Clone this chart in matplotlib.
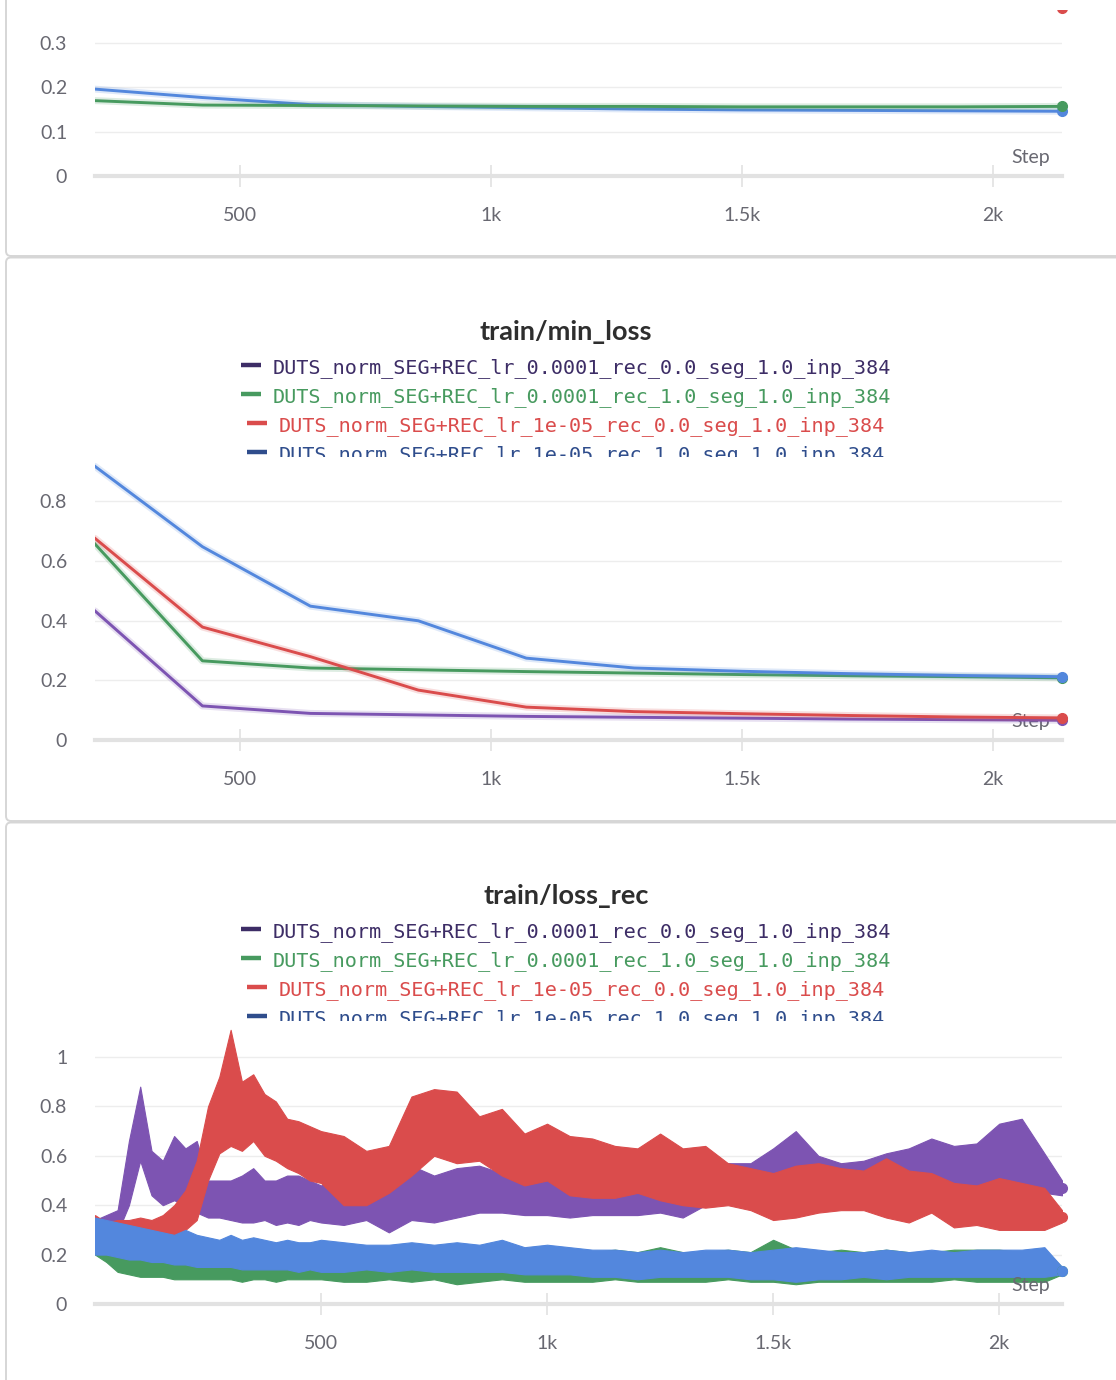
"""Three W&B-style training panels: a cropped loss panel, train/min_loss
and the noisy train/loss_rec curves."""

import matplotlib

matplotlib.use("Agg")

import matplotlib.pyplot as plt
from matplotlib.patches import FancyBboxPatch
from matplotlib.transforms import Bbox, offset_copy

W, H = 1116, 1380

RUN_NAMES = [
    "DUTS_norm_SEG+REC_lr_0.0001_rec_0.0_seg_1.0_inp_384",
    "DUTS_norm_SEG+REC_lr_0.0001_rec_1.0_seg_1.0_inp_384",
    "DUTS_norm_SEG+REC_lr_1e-05_rec_0.0_seg_1.0_inp_384",
    "DUTS_norm_SEG+REC_lr_1e-05_rec_1.0_seg_1.0_inp_384",
]
LINE_COLORS = ["#7D54B2", "#479A5F", "#DA4C4C", "#5387DD"]
TEXT_COLORS = ["#3d2d66", "#479A5F", "#DA4C4C", "#2f4d8c"]

# --- top panel (cropped): only green and blue fall inside the window,
# red sits above it and only its end marker peeks in
top_steps = [211, 425, 640, 855, 1070, 1285, 1500, 1715, 1930, 2137]
top_green = [0.170, 0.160, 0.159, 0.158, 0.157, 0.157, 0.156, 0.156, 0.156, 0.157]
top_blue = [0.196, 0.177, 0.161, 0.157, 0.154, 0.151, 0.149, 0.148, 0.147, 0.146]
top_red_last = 0.379

# --- train/min_loss
min_steps = [211, 425, 640, 855, 1070, 1285, 1500, 1715, 1930, 2137]
min_purple = [0.432, 0.114, 0.089, 0.084, 0.079, 0.076, 0.073, 0.070, 0.068, 0.066]
min_green = [0.656, 0.265, 0.241, 0.235, 0.229, 0.224, 0.219, 0.215, 0.212, 0.208]
min_red = [0.675, 0.378, 0.279, 0.167, 0.110, 0.095, 0.088, 0.082, 0.077, 0.074]
min_blue = [0.916, 0.647, 0.448, 0.399, 0.274, 0.241, 0.230, 0.222, 0.216, 0.212]

# --- train/loss_rec: noisy, so kept as a lower / upper envelope per run
rec_steps = [0, 25, 50, 75, 100, 125, 150, 175, 200, 225, 250, 275, 300, 325,
             350, 375, 400, 425, 450, 475, 500,
             550, 600, 650, 700, 750, 800, 850, 900, 950, 1000,
             1050, 1100, 1150, 1200, 1250, 1300, 1350, 1400, 1450, 1500,
             1550, 1600, 1650, 1700, 1750, 1800, 1850, 1900, 1950, 2000,
             2050, 2100, 2139]
rec_purple_lo = [0.27, 0.27, 0.29, 0.40, 0.58, 0.44, 0.40, 0.42, 0.40, 0.37, 0.35,
                 0.35, 0.34, 0.33, 0.33, 0.34, 0.32, 0.33, 0.32, 0.34, 0.33,
                 0.32, 0.34, 0.29, 0.34, 0.33, 0.35, 0.37, 0.37, 0.36, 0.36,
                 0.35, 0.36, 0.36, 0.36, 0.37, 0.35, 0.40, 0.42, 0.43, 0.44,
                 0.45, 0.44, 0.45, 0.45, 0.45, 0.45, 0.45, 0.45, 0.45, 0.48,
                 0.48, 0.45, 0.44]
rec_purple_hi = [0.34, 0.36, 0.38, 0.66, 0.88, 0.62, 0.58, 0.68, 0.63, 0.66, 0.50,
                 0.50, 0.50, 0.52, 0.55, 0.50, 0.50, 0.52, 0.52, 0.50, 0.48,
                 0.52, 0.48, 0.50, 0.56, 0.52, 0.55, 0.56, 0.53, 0.51, 0.54,
                 0.52, 0.50, 0.52, 0.50, 0.50, 0.48, 0.58, 0.57, 0.57, 0.63,
                 0.70, 0.60, 0.57, 0.58, 0.61, 0.63, 0.67, 0.64, 0.65, 0.73,
                 0.75, 0.61, 0.50]
rec_green_lo = [0.20, 0.17, 0.13, 0.12, 0.11, 0.11, 0.11, 0.10, 0.10, 0.10, 0.10,
                0.10, 0.10, 0.09, 0.10, 0.10, 0.09, 0.10, 0.10, 0.10, 0.10,
                0.09, 0.09, 0.10, 0.09, 0.10, 0.08, 0.09, 0.10, 0.09, 0.09,
                0.09, 0.09, 0.10, 0.09, 0.09, 0.09, 0.09, 0.10, 0.09, 0.09,
                0.08, 0.09, 0.09, 0.09, 0.09, 0.09, 0.09, 0.10, 0.09, 0.09,
                0.09, 0.09, 0.12]
rec_green_hi = [0.30, 0.26, 0.24, 0.23, 0.22, 0.22, 0.21, 0.21, 0.21, 0.20, 0.20,
                0.20, 0.20, 0.20, 0.21, 0.20, 0.20, 0.20, 0.20, 0.20, 0.20,
                0.21, 0.22, 0.20, 0.21, 0.21, 0.21, 0.20, 0.21, 0.20, 0.21,
                0.21, 0.21, 0.22, 0.21, 0.23, 0.21, 0.21, 0.22, 0.21, 0.26,
                0.22, 0.21, 0.22, 0.21, 0.22, 0.21, 0.21, 0.22, 0.22, 0.22,
                0.21, 0.22, 0.15]
rec_red_lo = [0.22, 0.21, 0.25, 0.26, 0.27, 0.26, 0.25, 0.27, 0.30, 0.34, 0.50,
              0.61, 0.64, 0.62, 0.66, 0.60, 0.58, 0.55, 0.53, 0.50, 0.49,
              0.40, 0.40, 0.45, 0.52, 0.60, 0.57, 0.58, 0.52, 0.48, 0.50,
              0.44, 0.43, 0.43, 0.45, 0.42, 0.40, 0.39, 0.40, 0.38, 0.34,
              0.35, 0.37, 0.38, 0.38, 0.35, 0.33, 0.37, 0.31, 0.32, 0.30,
              0.30, 0.30, 0.33]
rec_red_hi = [0.36, 0.33, 0.34, 0.34, 0.35, 0.34, 0.36, 0.40, 0.46, 0.58, 0.80,
              0.92, 1.11, 0.90, 0.93, 0.85, 0.82, 0.75, 0.74, 0.72, 0.70,
              0.68, 0.62, 0.64, 0.84, 0.87, 0.86, 0.76, 0.79, 0.69, 0.73,
              0.68, 0.67, 0.64, 0.63, 0.69, 0.63, 0.64, 0.57, 0.55, 0.53,
              0.56, 0.57, 0.55, 0.54, 0.59, 0.54, 0.53, 0.49, 0.48, 0.51,
              0.49, 0.47, 0.38]
rec_blue_lo = [0.20, 0.20, 0.19, 0.18, 0.18, 0.17, 0.17, 0.16, 0.16, 0.15, 0.15,
               0.15, 0.15, 0.14, 0.14, 0.14, 0.14, 0.14, 0.13, 0.14, 0.13,
               0.13, 0.14, 0.13, 0.14, 0.13, 0.13, 0.13, 0.13, 0.12, 0.12,
               0.12, 0.11, 0.11, 0.10, 0.11, 0.11, 0.11, 0.11, 0.10, 0.10,
               0.09, 0.10, 0.10, 0.11, 0.10, 0.11, 0.11, 0.11, 0.11, 0.11,
               0.11, 0.11, 0.12]
rec_blue_hi = [0.35, 0.34, 0.33, 0.32, 0.31, 0.30, 0.29, 0.28, 0.30, 0.28, 0.27,
               0.26, 0.28, 0.26, 0.27, 0.26, 0.25, 0.26, 0.25, 0.25, 0.26,
               0.25, 0.24, 0.24, 0.25, 0.24, 0.25, 0.24, 0.26, 0.23, 0.24,
               0.23, 0.22, 0.22, 0.21, 0.22, 0.21, 0.22, 0.22, 0.21, 0.22,
               0.23, 0.22, 0.21, 0.21, 0.22, 0.21, 0.22, 0.21, 0.22, 0.22,
               0.22, 0.23, 0.15]
rec_final = [0.47, 0.134, 0.352, 0.134]

step_ticks = [500, 1000, 1500, 2000]
step_labels = ["500", "1k", "1.5k", "2k"]

AXIS_GREY = "#e2e2e2"
GRID_GREY = "#ededed"
TICK_GREY = "#686871"
BORDER_GREY = "#d6d6d6"
MONO = ["DejaVu Sans Mono"]

plt.rcParams["font.family"] = ["Lato", "DejaVu Sans"]

fig = plt.figure(figsize=(W / 100, H / 100), dpi=100)
fig.patch.set_facecolor("white")

# background layer in pixel coordinates (origin top-left)
bg = fig.add_axes([0, 0, 1, 1])
bg.set_xlim(0, W)
bg.set_ylim(H, 0)
bg.axis("off")

for top, bottom in [(-20, 256), (257.5, 821), (822.5, 1400)]:
    bg.add_patch(FancyBboxPatch((6, top), W + 40, bottom - top,
                                boxstyle="round,pad=0,rounding_size=5",
                                fc="white", ec=BORDER_GREY, lw=1.4))


def make_axes(left, top, right, bottom):
    return fig.add_axes([left / W, 1 - bottom / H, (right - left) / W, (bottom - top) / H])


def style_axes(ax, xlim, ymax, yticks, ylabels):
    ax.set_xlim(*xlim)
    ax.set_ylim(0, ymax)
    ax.patch.set_alpha(0)
    for side in ("top", "right", "left"):
        ax.spines[side].set_visible(False)
    ax.spines["bottom"].set_color(AXIS_GREY)
    ax.spines["bottom"].set_linewidth(3)
    ax.set_yticks(yticks, ylabels)
    ax.set_xticks(step_ticks, step_labels)
    ax.tick_params(axis="y", length=0, pad=20, labelsize=14, labelcolor=TICK_GREY)
    ax.tick_params(axis="x", direction="inout", length=16, width=1.2, color=AXIS_GREY,
                   pad=14, labelsize=14, labelcolor=TICK_GREY)
    ax.grid(axis="y", color=GRID_GREY, linewidth=1)
    ax.set_axisbelow(True)
    ax.text(1, 0, "Step", transform=offset_copy(ax.transAxes, fig=fig, x=-12, y=19, units="dots"),
            ha="right", va="center", fontsize=14, color=TICK_GREY, zorder=1.5)


def draw_curve(ax, steps, values, color):
    ax.plot(steps, values, color=color, lw=5, alpha=0.18, solid_capstyle="round")
    ax.plot(steps, values, color=color, lw=2.1)
    ax.plot(steps[-1], values[-1], "o", ms=7, color=color, clip_on=False, zorder=4)


renderer = fig.canvas.get_renderer()


def draw_header(title, title_y, clip_y):
    bg.text(566, title_y, title, ha="center", va="center", fontsize=19.5,
            fontweight="bold", color="#2e2e2e")
    clip = Bbox.from_extents(0, H - clip_y, W, H)
    for i, (name, color) in enumerate(zip(RUN_NAMES, TEXT_COLORS)):
        y = title_y + 36 + i * 29
        label = bg.text(0, y, name, ha="left", va="center", family=MONO,
                        fontsize=14.5, color=color)
        width = label.get_window_extent(renderer).width
        left = 566 - (20 + 12 + width) / 2
        label.set_x(left + 32)
        mark, = bg.plot([left, left + 20], [y - 3, y - 3], color=color, lw=3.2,
                        solid_capstyle="butt")
        # the last entry is cut off by the plot area in the original
        label.set_clip_on(True)
        label.set_clip_box(clip)
        mark.set_clip_box(clip)


# --- panel 1 (cropped at the top of the screenshot)
ax1 = make_axes(95, 10, 1062, 176)
style_axes(ax1, (211, 2137), 166 / 443.3, [0, 0.1, 0.2, 0.3], ["0", "0.1", "0.2", "0.3"])
draw_curve(ax1, top_steps, top_blue, LINE_COLORS[3])
draw_curve(ax1, top_steps, top_green, LINE_COLORS[1])
red_dot, = ax1.plot(top_steps[-1], top_red_last, "o", ms=7, color=LINE_COLORS[2], zorder=4)
red_dot.set_clip_box(Bbox.from_extents(0, 0, W, H - 10))

# --- panel 2: train/min_loss
draw_header("train/min_loss", 332, 457)
ax2 = make_axes(95, 456, 1062, 740)
style_axes(ax2, (211, 2137), 284 / 298.75, [0, 0.2, 0.4, 0.6, 0.8],
           ["0", "0.2", "0.4", "0.6", "0.8"])
for values, color in zip([min_purple, min_green, min_red, min_blue], LINE_COLORS):
    draw_curve(ax2, min_steps, values, color)

# --- panel 3: train/loss_rec
draw_header("train/loss_rec", 896, 1021)
ax3 = make_axes(95, 1020, 1062, 1304)
style_axes(ax3, (0, 2139), 284 / 247, [0, 0.2, 0.4, 0.6, 0.8, 1.0],
           ["0", "0.2", "0.4", "0.6", "0.8", "1"])
bands = [(rec_purple_lo, rec_purple_hi), (rec_green_lo, rec_green_hi),
         (rec_red_lo, rec_red_hi), (rec_blue_lo, rec_blue_hi)]
for (lo, hi), last, color in zip(bands, rec_final, LINE_COLORS):
    ax3.fill_between(rec_steps, lo, hi, color=color, lw=0.8)
    ax3.plot(rec_steps[-1], last, "o", ms=7, color=color, clip_on=False, zorder=4)

fig.savefig("out.png", dpi=100, facecolor="white")
